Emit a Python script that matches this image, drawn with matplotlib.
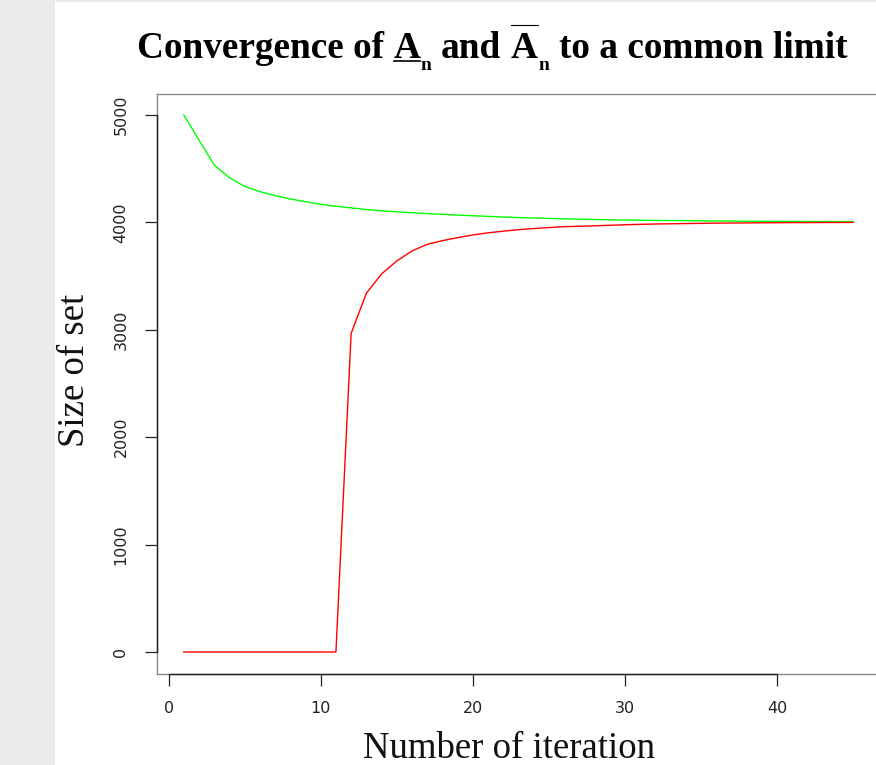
import matplotlib
matplotlib.use("Agg")
import matplotlib.pyplot as plt
from matplotlib.transforms import IdentityTransform
from matplotlib.patches import Rectangle
from matplotlib.lines import Line2D

# ---- data ----
iterations = list(range(1, 46))
upper_set = [5000, 4767, 4534, 4416, 4335, 4286, 4250, 4218, 4193, 4168,
             4150, 4135, 4120, 4108, 4098, 4090, 4082, 4075, 4068, 4062,
             4056, 4050, 4045, 4041, 4037, 4033, 4030, 4027, 4024, 4022,
             4020, 4018, 4017, 4016, 4014, 4013, 4012, 4011, 4010, 4009,
             4009, 4008, 4008, 4007, 4007]
lower_set = [0, 0, 0, 0, 0, 0, 0, 0, 0, 0,
             0, 2967, 3340, 3520, 3641, 3734, 3796, 3830, 3858, 3883,
             3903, 3918, 3932, 3943, 3952, 3960, 3964, 3968, 3973, 3978,
             3982, 3985, 3987, 3989, 3991, 3993, 3994, 3995, 3996, 3997,
             3998, 3998, 3999, 3999, 4000]
x_ticks = [0, 10, 20, 30, 40]
y_ticks = [0, 1000, 2000, 3000, 4000, 5000]

title_parts = ["Convergence of", "A", "n", "and", "A", "n", "to a common limit"]
x_label = "Number of iteration"
y_label = "Size of set"

# ---- figure ----
W, H = 876, 765
fig = plt.figure(figsize=(W / 100, H / 100), dpi=100, facecolor="#ebebeb")
fig.add_artist(Rectangle((55, 0), W - 55, H - 2, transform=IdentityTransform(),
                         facecolor="white", edgecolor="none", zorder=-10))

ax = fig.add_axes([157 / W, 91.5 / H, (880 - 157) / W, 580 / H])
ax.set_facecolor("white")
ax.plot(iterations, upper_set, color="#00ff00", lw=1.0)
ax.plot(iterations, lower_set, color="#ff0000", lw=1.0)

# R-style 4% padding
xmin, xmax = min(iterations), max(iterations)
allv = upper_set + lower_set
ymin, ymax = min(allv), max(allv)
px = 0.04 * (xmax - xmin)
py = 0.04 * (ymax - ymin)
ax.set_xlim(xmin - px, xmax + px)
ax.set_ylim(ymin - py, ymax + py)

for s in ax.spines.values():
    s.set_color("#8a8a8a")
    s.set_linewidth(1.0)

ax.set_xticks(x_ticks)
ax.set_yticks(y_ticks)
ax.set_xticklabels([str(v) for v in x_ticks])
ax.set_yticklabels([str(v) for v in y_ticks], rotation=90, va="center")
ax.tick_params(direction="out", length=8.6, width=0.9, color="#222222",
               labelsize=11.5, labelcolor="#222222")
ax.tick_params(axis="x", pad=11)
ax.tick_params(axis="y", pad=12)
for lab in ax.get_xticklabels() + ax.get_yticklabels():
    lab.set_family("DejaVu Sans")

# black axis lines spanning tick range (R style)
xl0 = ax.get_xlim()[0]
yl0 = ax.get_ylim()[0]
ax.plot([xl0, xl0], [y_ticks[0], y_ticks[-1]], color="#222222", lw=1.0, clip_on=False, zorder=5)
ax.plot([x_ticks[0], x_ticks[-1]], [yl0, yl0], color="#222222", lw=1.0, clip_on=False, zorder=5)

# axis labels
fig.text(509, H - 757.5, x_label, transform=IdentityTransform(), family="Liberation Serif",
         fontsize=26.5, ha="center", va="baseline", color="#111111")
fig.text(75, H - 370, y_label, transform=IdentityTransform(), family="Liberation Serif",
         fontsize=26.5, ha="center", va="center", rotation=90, color="#111111")

# title assembled from pieces
renderer = fig.canvas.get_renderer()
base = H - 57.5
x = 137.0
gap = 9.5
specs = [
    (title_parts[0], 26.8, 0, None, gap),
    (title_parts[1], 26.8, 0, "under", 0.5),
    (title_parts[2], 14, -12.5, None, gap),
    (title_parts[3], 26.8, 0, None, gap),
    (title_parts[4], 26.8, 0, "over", 0.5),
    (title_parts[5], 14, -12.5, None, gap),
    (title_parts[6], 26.8, 0, None, 0),
]
for txt, size, dy, deco, after in specs:
    t = fig.text(x, base + dy, txt, transform=IdentityTransform(), family="Liberation Serif",
                 fontweight="bold", fontsize=size, ha="left", va="baseline", color="black")
    bb = t.get_window_extent(renderer)
    if deco == "under":
        fig.add_artist(Line2D([bb.x0, bb.x1], [H - 61, H - 61], transform=IdentityTransform(),
                              color="black", lw=1.2))
    elif deco == "over":
        fig.add_artist(Line2D([bb.x0, bb.x1], [H - 25, H - 25], transform=IdentityTransform(),
                              color="black", lw=0.8))
    x = bb.x1 + after

fig.savefig("out.png", dpi=100, facecolor=fig.get_facecolor())
